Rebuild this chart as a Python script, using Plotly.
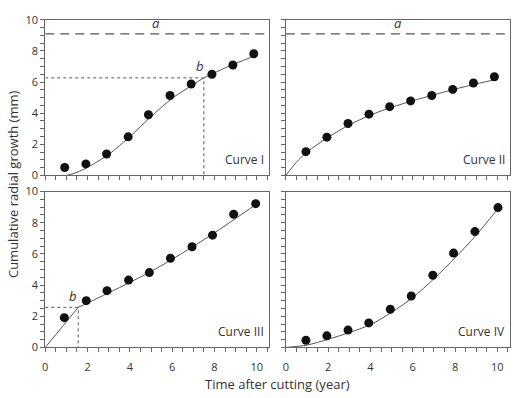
import plotly.graph_objects as go

# ---- data ----
asymptote_a = 9.1

c1_x = [0.92, 1.92, 2.9, 3.92, 4.88, 5.9, 6.9, 7.88, 8.87, 9.86]
c1_y = [0.51, 0.74, 1.38, 2.48, 3.9, 5.14, 5.88, 6.5, 7.1, 7.82]
c1_fit_x = [1.0, 1.5, 2.0, 3.0, 4.0, 5.0, 6.0, 7.0, 7.5, 8.0, 9.0, 10.0]
c1_fit_y = [0.0, 0.2, 0.52, 1.35, 2.5, 3.78, 4.95, 5.85, 6.27, 6.6, 7.2, 7.72]
c1_b = (7.5, 6.27)

c2_x = [0.95, 1.94, 2.94, 3.93, 4.91, 5.9, 6.9, 7.89, 8.87, 9.86]
c2_y = [1.53, 2.46, 3.34, 3.94, 4.42, 4.79, 5.14, 5.53, 5.94, 6.34]
c2_fit_x = [0.0, 0.5, 1.0, 2.0, 3.0, 4.0, 5.0, 6.0, 7.0, 8.0, 9.0, 10.0]
c2_fit_y = [0.0, 0.85, 1.5, 2.45, 3.25, 3.88, 4.38, 4.8, 5.18, 5.55, 5.88, 6.19]

c3_x = [0.9, 1.94, 2.92, 3.94, 4.92, 5.92, 6.94, 7.91, 8.91, 9.95]
c3_y = [1.91, 3.0, 3.64, 4.32, 4.8, 5.72, 6.46, 7.2, 8.54, 9.22]
c3_fit1_x = [0.0, 1.56]
c3_fit1_y = [0.0, 2.57]
c3_fit2_x = [1.56, 2.0, 3.0, 4.0, 5.0, 6.0, 7.0, 8.0, 9.0, 10.0]
c3_fit2_y = [2.57, 2.85, 3.5, 4.17, 4.87, 5.65, 6.48, 7.35, 8.27, 9.2]
c3_b = (1.56, 2.57)

c4_x = [0.95, 1.94, 2.94, 3.92, 4.94, 5.93, 6.95, 7.93, 8.94, 10.03]
c4_y = [0.46, 0.74, 1.11, 1.57, 2.45, 3.3, 4.63, 6.05, 7.43, 8.97]
c4_fit_x = [0.0, 1.0, 2.0, 3.0, 4.0, 5.0, 6.0, 7.0, 8.0, 9.0, 10.0]
c4_fit_y = [0.0, 0.15, 0.52, 0.95, 1.46, 2.25, 3.2, 4.4, 5.75, 7.2, 8.85]

curve_names = ["Curve I", "Curve II", "Curve III", "Curve IV"]

# ---- styling ----
LINE = "#555555"
AX = "#666666"
TXT = "#333333"
FONT = "Open Sans"

fig = go.Figure()

def pts(x, y, xa, ya):
    fig.add_trace(go.Scatter(x=x, y=y, mode="markers", xaxis=xa, yaxis=ya,
                             marker=dict(size=9, color="#111111"), showlegend=False))

def fit(x, y, xa, ya, shape="spline"):
    fig.add_trace(go.Scatter(x=x, y=y, mode="lines", xaxis=xa, yaxis=ya,
                             line=dict(color=LINE, width=1, shape=shape, smoothing=0.8),
                             showlegend=False))

def dotted(x, y, xa, ya):
    fig.add_trace(go.Scatter(x=x, y=y, mode="lines", xaxis=xa, yaxis=ya,
                             line=dict(color=LINE, width=1, dash="dot"), showlegend=False))

xmax = 10.6
# panel I (x, y)
fit(c1_fit_x, c1_fit_y, "x", "y")
dotted([0, c1_b[0], c1_b[0]], [c1_b[1], c1_b[1], 0], "x", "y")
fig.add_trace(go.Scatter(x=[0, xmax], y=[asymptote_a, asymptote_a], mode="lines", xaxis="x", yaxis="y",
                         line=dict(color=LINE, width=1.3, dash="9px,6px"), showlegend=False))
pts(c1_x, c1_y, "x", "y")
# panel II (x2, y2)
fit(c2_fit_x, c2_fit_y, "x2", "y2")
fig.add_trace(go.Scatter(x=[0, xmax], y=[asymptote_a, asymptote_a], mode="lines", xaxis="x2", yaxis="y2",
                         line=dict(color=LINE, width=1.3, dash="9px,6px"), showlegend=False))
pts(c2_x, c2_y, "x2", "y2")
# panel III (x3, y3)
fit(c3_fit1_x, c3_fit1_y, "x3", "y3", shape="linear")
fit(c3_fit2_x, c3_fit2_y, "x3", "y3")
dotted([0, c3_b[0], c3_b[0]], [c3_b[1], c3_b[1], 0], "x3", "y3")
pts(c3_x, c3_y, "x3", "y3")
# panel IV (x4, y4)
fit(c4_fit_x, c4_fit_y, "x4", "y4")
pts(c4_x, c4_y, "x4", "y4")

W, H = 514, 398
def fx(px):
    return px / W
def fy(py):
    return 1 - py / H

xdom_l = [fx(42.5), fx(268)]
xdom_r = [fx(284.5), fx(510)]
ydom_t = [fy(174), fy(12.3)]
ydom_b = [fy(352.7), fy(190.7)]

def xaxis(dom, anchor, labels):
    return dict(domain=dom, anchor=anchor, range=[0, xmax], dtick=2, tick0=0,
                showgrid=False, zeroline=False, showline=True, mirror=True,
                linecolor=AX, linewidth=1, ticks="outside", ticklen=4, tickcolor=AX,
                showticklabels=labels, tickfont=dict(family=FONT, size=11, color=TXT),
                ticklabelstandoff=5,
                minor=dict(dtick=0.5, ticks="outside", ticklen=4, tickcolor=AX, showgrid=False))

def yaxis(dom, anchor, labels):
    return dict(domain=dom, anchor=anchor, range=[0, 10], dtick=2, tick0=0,
                showgrid=False, zeroline=False, showline=True, mirror=True,
                linecolor=AX, linewidth=1, ticks="outside", ticklen=4, tickcolor=AX,
                showticklabels=labels, tickfont=dict(family=FONT, size=11, color=TXT),
                minor=dict(dtick=0.5, ticks="outside", ticklen=4, tickcolor=AX, showgrid=False))

annotations = []
for i, name in enumerate(curve_names):
    suffix = "" if i == 0 else str(i + 1)
    annotations.append(dict(text=name, x=0.985, y=0.035, xref=f"x{suffix} domain", yref=f"y{suffix} domain",
                            xanchor="right", yanchor="bottom", showarrow=False,
                            font=dict(family=FONT, size=12, color=TXT)))

annotations += [
    dict(text="<i>a</i>", x=5.25, y=asymptote_a, xref="x", yref="y", yanchor="bottom", showarrow=False,
         font=dict(family=FONT, size=13, color=TXT)),
    dict(text="<i>a</i>", x=5.3, y=asymptote_a, xref="x2", yref="y2", yanchor="bottom", showarrow=False,
         font=dict(family=FONT, size=13, color=TXT)),
    dict(text="<i>b</i>", x=c1_b[0] - 0.2, y=c1_b[1] + 0.05, xref="x", yref="y", yanchor="bottom", showarrow=False,
         font=dict(family=FONT, size=13, color=TXT)),
    dict(text="<i>b</i>", x=c3_b[0] - 0.25, y=c3_b[1] + 0.05, xref="x3", yref="y3", yanchor="bottom", showarrow=False,
         font=dict(family=FONT, size=13, color=TXT)),
    dict(text="Cumulative radial growth (mm)", x=fx(10), y=fy(183), xref="paper", yref="paper",
         xanchor="center", yanchor="middle",
         textangle=-90, showarrow=False, font=dict(family=FONT, size=13, color=TXT)),
    dict(text="Time after cutting (year)", x=fx(276), y=fy(391), xref="paper", yref="paper",
         xanchor="center", yanchor="middle",
         showarrow=False, font=dict(family=FONT, size=13, color=TXT)),
]

fig.update_layout(
    width=W, height=H, margin=dict(l=0, r=0, t=0, b=0),
    paper_bgcolor="white", plot_bgcolor="white",
    xaxis=xaxis(xdom_l, "y", False), yaxis=yaxis(ydom_t, "x", True),
    xaxis2=xaxis(xdom_r, "y2", False), yaxis2=yaxis(ydom_t, "x2", False),
    xaxis3=xaxis(xdom_l, "y3", True), yaxis3=yaxis(ydom_b, "x3", True),
    xaxis4=xaxis(xdom_r, "y4", True), yaxis4=yaxis(ydom_b, "x4", False),
    annotations=annotations,
)

fig.write_html("out.html")
